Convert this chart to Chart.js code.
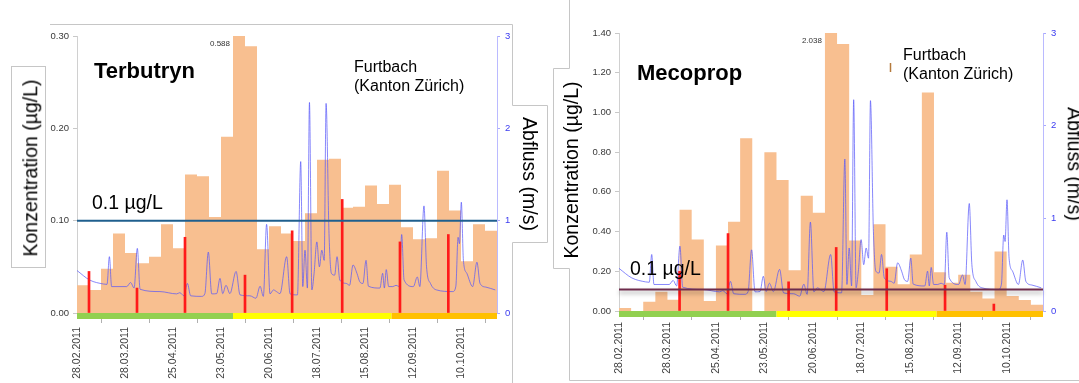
<!DOCTYPE html>
<html>
<head>
<meta charset="utf-8">
<script src="https://cdn.jsdelivr.net/npm/chart.js@4.4.1/dist/chart.umd.min.js"></script>
<style>
  html, body { margin: 0; padding: 0; background: #fff; }
  #wrap { position: relative; width: 1079px; height: 383px; overflow: hidden;
          font-family: "Liberation Sans", Arial, sans-serif; color: #000; }
  canvas { position: absolute; top: 0; }
  svg { position: absolute; left: 0; top: 0; }
  .t { position: absolute; white-space: nowrap; line-height: 1; }
  .v { position: absolute; white-space: nowrap; line-height: 1; font-size: 19.5px;
       transform: translate(-50%, -50%) rotate(-90deg); }
  .v.cw { transform: translate(-50%, -50%) rotate(90deg); }
</style>
</head>
<body>
<div id="wrap">
  <svg width="1079" height="383">
    <g fill="none" stroke="#c6c6c6" stroke-width="1">
      <rect x="11.5" y="66.5" width="34" height="201"/>
      <polyline points="50,24.5 512.5,24.5 512.5,105.5 547.5,105.5 547.5,242.5 512.5,242.5 512.5,383"/>
      <polyline points="569.5,0 569.5,68.5 553.5,68.5 553.5,268.5 569.5,268.5 569.5,380.5 1079,380.5"/>
    </g>
    <line x1="890.5" y1="63" x2="890.5" y2="72" stroke="#b47a3c" stroke-width="1.5"/>
  </svg>

  <canvas id="terbutrynChart" width="540" height="383" style="left:0"></canvas>
  <canvas id="mecopropChart" width="539" height="383" style="left:540px"></canvas>

  <div class="t" style="left:94px;top:60px;font-size:22px;font-weight:bold">Terbutryn</div>
  <div class="t" style="left:354px;top:57px;font-size:16px;line-height:19.4px">Furtbach<br>(Kanton Zürich)</div>
  <div class="t" style="left:92px;top:192.5px;font-size:19.5px">0.1 µg/L</div>
  <div class="v" style="left:31px;top:168px">Konzentration (µg/L)</div>
  <div class="v cw" style="left:529px;top:174px">Abfluss (m/s)</div>

  <div class="t" style="left:637px;top:62px;font-size:22px;font-weight:bold">Mecoprop</div>
  <div class="t" style="left:903px;top:45px;font-size:16px;line-height:19px">Furtbach<br>(Kanton Zürich)</div>
  <div class="t" style="left:630px;top:258.5px;font-size:19.5px">0.1 µg/L</div>
  <div class="v" style="left:572px;top:170px">Konzentration (µg/L)</div>
  <div class="v cw" style="left:1074px;top:164px">Abfluss (m/s)</div>
</div>

<script>
// x axis: days since 28.02.2011, one composite sample per week
var WEEK = 7;
var X_MAX = 245;
var dayTicks = [0, 28, 56, 84, 112, 140, 168, 196, 224];
var dateLabels = ['28.02.2011', '28.03.2011', '25.04.2011', '23.05.2011', '20.06.2011',
                  '18.07.2011', '15.08.2011', '12.09.2011', '10.10.2011'];

// weekly concentrations (µg/L)
var terbutryn = [0.030, 0.025, 0.048, 0.086, 0.065, 0.054, 0.061, 0.096, 0.070, 0.150,
                 0.148, 0.104, 0.191, 0.588, 0.289, 0.069, 0.094, 0.086, 0.078, 0.108,
                 0.166, 0.167, 0.114, 0.115, 0.138, 0.118, 0.139, 0.093, 0.080, 0.081,
                 0.154, 0.111, 0.056, 0.096, 0.089];
var mecoprop = [0.015, 0.000, 0.047, 0.097, 0.057, 0.510, 0.360, 0.050, 0.330, 0.450,
                0.870, 0.000, 0.800, 0.660, 0.205, 0.580, 0.495, 2.038, 1.344, 0.355,
                0.080, 0.437, 0.223, 0.135, 0.285, 1.100, 0.195, 0.142, 0.183, 0.097,
                0.063, 0.300, 0.076, 0.055, 0.031];

// red event markers (day, height in µg/L)
var eventDaysT = [7, 35, 63, 98, 125.5, 154.7, 188.4, 216.6];
var eventT = [0.045, 0.027, 0.082, 0.041, 0.089, 0.123, 0.077, 0.085];
var eventDaysM = [35, 63, 98, 125.5, 154.7, 188.4, 216.6];
var eventM = [0.20, 0.39, 0.147, 0.32, 0.213, 0.13, 0.035];

// discharge Furtbach
var flowDays = [0, 7.4, 15.4, 17.5, 18.9, 20.2, 29, 31.3, 33.3, 35.2, 36.8, 48.4, 58.1, 60,
                62.4, 64.4, 66.3, 72.7, 74.6, 76.6, 78.6, 81.5, 83.4, 85, 86.9, 89.2, 92.8,
                95.1, 100.9, 104.4, 106.8, 108.7, 110.6, 112.6, 114.6, 116.5, 118.4, 122.3,
                124.3, 128.6, 130.5, 131.7, 133, 134.4, 135.6, 137, 138.3, 139.9, 141.4,
                142.8, 144.2, 145.3, 147, 148.4, 150.3, 151.7, 153.3, 157.1, 159, 161,
                163.3, 164.9, 166.8, 168.6, 170, 176.7, 178.3, 179.3, 180.4, 181.8, 184.2,
                186.1, 188, 189.4, 190.8, 196.2, 198.5, 200, 202.4, 203.9, 206.2, 209.7,
                219.2, 221, 222.3, 223.1, 224.2, 225.4, 227.4, 230.8, 233.3, 235.1, 238.6, 244];
var flowValues = [0.46, 0.357, 0.314, 0.31, 0.61, 0.286, 0.286, 0.33, 0.27, 0.70, 0.257, 0.232, 0.207, 0.22,
                  0.186, 0.32, 0.186, 0.18, 0.21, 0.66, 0.207, 0.21, 0.375, 0.21, 0.30, 0.21, 0.45,
                  0.196, 0.186, 0.16, 0.29, 0.18, 0.96, 0.207, 0.25, 0.23, 0.21, 0.61,
                  0.207, 0.196, 1.64, 0.286, 0.68, 0.27, 2.28, 0.25, 0.43, 0.77, 0.50,
                  0.68, 0.57, 2.27, 0.86, 0.43, 0.41, 0.61, 0.357, 0.32, 0.30, 0.52,
                  0.43, 0.34, 0.32, 0.57, 0.29, 0.27, 0.43, 0.27, 0.47, 0.286, 0.286,
                  0.30, 0.286, 0.85, 0.357, 0.286, 0.39, 0.286, 1.16, 0.50, 0.32, 0.25,
                  0.232, 0.29, 0.82, 0.75, 1.20, 0.57, 0.43, 0.286, 0.55, 0.32, 0.28, 0.25];

var seasonEdges = [0, 91, 183.5, 245];
var seasonColors = ['#92d050', '#ffff00', '#ffc000'];

var yTicksT = [0, 0.1, 0.2, 0.3];
var yTicksM = [0, 0.2, 0.4, 0.6, 0.8, 1.0, 1.2, 1.4];
var flowTicks = [0, 1, 2, 3];

var FONT = '"Liberation Sans", Arial, sans-serif';

var decoPlugin = {
    id: 'deco',
    afterDatasetsDraw: function (chart, args, o) {
        var ctx = chart.ctx, a = chart.chartArea;
        var x = chart.scales.x, y = chart.scales.y;

        // limit line
        var ty = y.getPixelForValue(o.limit);
        ctx.save();
        if (o.shadow) {
            ctx.shadowColor = 'rgba(0,0,0,0.35)';
            ctx.shadowBlur = 4;
            ctx.shadowOffsetY = 3;
        }
        ctx.strokeStyle = o.limitColor;
        ctx.lineWidth = 2;
        ctx.beginPath();
        ctx.moveTo(a.left, ty);
        ctx.lineTo(a.right, ty);
        ctx.stroke();
        ctx.restore();

        // season band under the axis
        ctx.save();
        for (var i = 0; i < seasonColors.length; i++) {
            var x0 = x.getPixelForValue(seasonEdges[i]);
            var x1 = x.getPixelForValue(seasonEdges[i + 1]);
            ctx.fillStyle = seasonColors[i];
            ctx.fillRect(x0, a.bottom, x1 - x0, 6);
        }
        ctx.restore();

        // value of bars cut by the axis maximum
        ctx.save();
        ctx.font = '8px ' + FONT;
        ctx.fillStyle = '#333';
        ctx.textAlign = 'right';
        ctx.textBaseline = 'middle';
        o.values.forEach(function (v, i) {
            if (v > y.max) {
                ctx.fillText(v.toFixed(3), x.getPixelForValue(i * WEEK) - 3, a.top + 8);
            }
        });
        ctx.restore();
    }
};

function makeChart(id, p) {
    var steps = p.values.map(function (v, i) { return { x: i * WEEK, y: v }; });
    steps.push({ x: X_MAX, y: p.values[p.values.length - 1] });

    new Chart(document.getElementById(id), {
        type: 'line',
        data: {
            datasets: [{
                type: 'bar',
                data: p.eventDays.map(function (d, i) { return { x: d, y: p.events[i] }; }),
                backgroundColor: '#ff1a1a',
                barThickness: 2,
                grouped: false,
                yAxisID: 'y',
                order: 1
            }, {
                data: flowDays.map(function (d, i) { return { x: d, y: flowValues[i] }; }),
                borderColor: 'rgba(85,85,250,0.7)',
                borderWidth: 1,
                pointRadius: 0,
                cubicInterpolationMode: 'monotone',
                yAxisID: 'y2',
                order: 2
            }, {
                data: steps,
                stepped: true,
                fill: 'origin',
                backgroundColor: '#f8bf90',
                borderColor: 'rgba(0,0,0,0)',
                borderWidth: 0,
                pointRadius: 0,
                yAxisID: 'y',
                order: 3
            }]
        },
        options: {
            responsive: false,
            animation: false,
            events: [],
            layout: { padding: { top: p.top, left: 0, right: 0, bottom: 0 } },
            plugins: {
                legend: { display: false },
                tooltip: { enabled: false },
                deco: { limit: p.limit, limitColor: p.limitColor, shadow: p.shadow, values: p.values }
            },
            scales: {
                x: {
                    type: 'linear', min: 0, max: X_MAX, offset: false,
                    afterBuildTicks: function (s) { s.ticks = dayTicks.map(function (v) { return { value: v }; }); },
                    afterFit: function (s) { s.height = p.xHeight; },
                    ticks: {
                        autoSkip: false, minRotation: 90, maxRotation: 90,
                        padding: p.xPad, color: '#404040', font: { family: FONT, size: 10.5 },
                        callback: function (v) { return dateLabels[dayTicks.indexOf(v)]; }
                    },
                    grid: { drawOnChartArea: false, tickLength: p.xTick, color: '#b0b0b0' },
                    border: { display: false }
                },
                y: {
                    position: 'left', min: 0, max: p.yTicks[p.yTicks.length - 1],
                    afterBuildTicks: function (s) { s.ticks = p.yTicks.map(function (v) { return { value: v }; }); },
                    afterFit: function (s) { s.width = p.left; },
                    ticks: {
                        padding: 4, color: '#383838', font: { family: FONT, size: 9.5 },
                        callback: function (v) { return v.toFixed(2); }
                    },
                    grid: { drawOnChartArea: false, tickLength: 4, color: '#c8c8c8' },
                    border: { color: '#d0d0d0' }
                },
                y2: {
                    position: 'right', min: 0, max: 3,
                    afterBuildTicks: function (s) { s.ticks = flowTicks.map(function (v) { return { value: v }; }); },
                    afterFit: function (s) { s.width = p.right; },
                    ticks: { padding: 5, color: '#3a3af0', font: { family: FONT, size: 9.5 } },
                    grid: { drawOnChartArea: false, tickLength: 3, color: '#a8a8ff' },
                    border: { color: '#babaff' }
                }
            }
        },
        plugins: [decoPlugin]
    });
}

makeChart('terbutrynChart', {
    values: terbutryn, eventDays: eventDaysT, events: eventT, yTicks: yTicksT,
    limit: 0.1, limitColor: '#1f5f8e', shadow: false,
    top: 36, left: 77, right: 43, xHeight: 70, xTick: 10, xPad: 4
});

makeChart('mecopropChart', {
    values: mecoprop, eventDays: eventDaysM, events: eventM, yTicks: yTicksM,
    limit: 0.108, limitColor: '#6e2c4c', shadow: true,
    top: 33, left: 79, right: 36, xHeight: 72, xTick: 9, xPad: 2
});
</script>
</body>
</html>
